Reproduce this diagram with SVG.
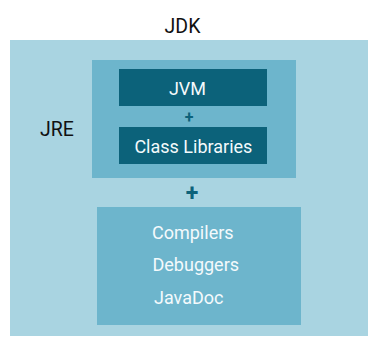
<svg xmlns="http://www.w3.org/2000/svg" width="384" height="346" viewBox="0 0 384 346">
<style>
text{font-family:Roboto,"Liberation Sans",sans-serif;font-weight:400}
.lbl{font-size:19.5px;fill:#111}
.w{fill:#f4fafc;font-size:18px}
.plus{fill:#0d627a;font-weight:700;text-anchor:middle}
</style>
<rect width="384" height="346" fill="#fff"/>
<g id="jdk">
<rect x="10" y="40" width="358" height="296" fill="#a9d4e1"/>
<text class="lbl" x="182.5" y="32.7" text-anchor="middle">JDK</text>
</g>
<g id="jre">
<rect x="92" y="60" width="204" height="118" fill="#6db5cc"/>
<text class="lbl" x="40" y="135.7">JRE</text>
</g>
<g id="jvm">
<rect x="119" y="69" width="148" height="37" fill="#0c627a"/>
<text class="w" x="187.5" y="95" text-anchor="middle">JVM</text>
</g>
<g id="classlib">
<rect x="119" y="127" width="148" height="37" fill="#0c627a"/>
<text class="w" x="193.4" y="153.3" text-anchor="middle">Class Libraries</text>
</g>
<g id="tools">
<rect x="97" y="207" width="204" height="118" fill="#6db5cc"/>
<text class="w" x="152" y="239">Compilers</text>
<text class="w" x="152.5" y="270.7">Debuggers</text>
<text class="w" x="154" y="304.4">JavaDoc</text>
</g>
<g id="connectors">
<text class="plus" x="189" y="123" font-size="16">+</text>
<text class="plus" x="192" y="200.5" font-size="23">+</text>
</g>
</svg>
